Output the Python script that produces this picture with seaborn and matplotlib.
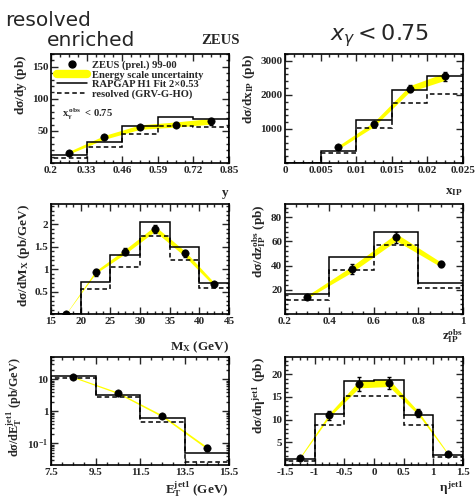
import numpy as np
import matplotlib
matplotlib.use('Agg')
import matplotlib.pyplot as plt
import seaborn as sns
from matplotlib.ticker import AutoMinorLocator, FixedLocator, FixedFormatter
from matplotlib.lines import Line2D

sns.set_style('ticks')
plt.rcParams['font.family'] = ['Liberation Serif', 'DejaVu Serif']
plt.rcParams['mathtext.fontset'] = 'custom'
plt.rcParams['mathtext.rm'] = 'Liberation Serif:bold'
plt.rcParams['mathtext.it'] = 'Liberation Serif:bold'
plt.rcParams['mathtext.bf'] = 'Liberation Serif:bold'

# ---- data ----
# panel 1: y
y_edges = [0.2, 0.33, 0.46, 0.59, 0.72, 0.85]
y_x = [0.265, 0.395, 0.525, 0.655, 0.785]
y_data = [16, 40, 56, 60, 65]
y_err = [2, 3, 3, 4, 5]
y_band = [2, 3, 3.5, 4, 4.5]
y_rapgap = [12.6, 33, 57, 71, 69]
y_resolved = [8, 25, 46, 57, 56]

# panel 2: x_IP
xp_edges = [0, 0.005, 0.01, 0.015, 0.02, 0.025]
xp_x = [0.0075, 0.0125, 0.0175, 0.0225]
xp_data = [460, 1140, 2180, 2540]
xp_err = [50, 70, 110, 140]
xp_band = [50, 70, 90, 110]
xp_rapgap = [0, 360, 1270, 2150, 2560]
xp_resolved = [0, 290, 1030, 1750, 2040]

# panel 3: M_X
mx_edges = [15, 20, 25, 30, 35, 40, 45]
mx_x = [17.5, 22.5, 27.5, 32.5, 37.5, 42.5]
mx_data = [0.0, 0.93, 1.39, 1.9, 1.35, 0.66]
mx_err = [0.01, 0.08, 0.08, 0.09, 0.08, 0.05]
mx_band = [0.005, 0.03, 0.05, 0.06, 0.06, 0.04]
mx_rapgap = [0.0, 0.72, 1.32, 2.05, 1.5, 0.68]
mx_resolved = [0.0, 0.55, 1.04, 1.73, 1.21, 0.57]

# panel 4: z_IP^obs
z_edges = [0.2, 0.4, 0.6, 0.8, 1.0]
z_x = [0.3, 0.5, 0.7, 0.9]
z_data = [14.2, 37, 63.5, 41]
z_err = [1.5, 4, 4.5, 2.5]
z_band = [1.2, 2.5, 3, 2]
z_rapgap = [16.8, 47, 67.5, 25.6]
z_resolved = [11.2, 36.5, 57.3, 21.5]

# panel 5: E_T^jet1
et_edges = [7.5, 9.5, 11.5, 13.5, 15.5]
et_x = [8.5, 10.5, 12.5, 14.5]
et_data = [11.8, 3.8, 0.72, 0.073]
et_err = [0.6, 0.25, 0.06, 0.015]
et_band = [0.5, 0.2, 0.05, 0.006]
et_rapgap = [12.7, 3.3, 0.62, 0.049]
et_resolved = [10.7, 2.75, 0.48, 0.027]

# panel 6: eta^jet1
eta_edges = [-1.5, -1.0, -0.5, 0.0, 0.5, 1.0, 1.5]
eta_x = [-1.25, -0.75, -0.25, 0.25, 0.75, 1.25]
eta_data = [1.6, 11.0, 17.8, 18.1, 11.4, 2.4]
eta_err = [0.3, 1.0, 1.6, 1.3, 0.9, 0.3]
eta_band = [0.15, 0.4, 0.8, 0.8, 0.4, 0.15]
eta_rapgap = [1.4, 11.2, 18.5, 18.7, 11.0, 2.2]
eta_resolved = [0.9, 8.9, 15.1, 15.1, 8.8, 1.8]

W, H = 477, 503
fig = plt.figure(figsize=(W / 100, H / 100), dpi=100)


def make_ax(l, t, r, b):
    return fig.add_axes([l / W, 1 - b / H, (r - l) / W, (b - t) / H])


def draw(ax, edges, xc, data, err, band, rapgap, resolved, log=False):
    xc = np.array(xc)
    data = np.array(data)
    band = np.array(band)
    ax.fill_between(xc, data - band, data + band, color='#ffff00', lw=0, zorder=1)
    ax.stairs(rapgap, edges, color='black', lw=1.1, zorder=2)
    ax.stairs(resolved, edges, color='black', lw=1.1, ls=(0, (3, 2)), zorder=2)
    ax.errorbar(xc, data, yerr=err, fmt='none', ecolor='black', elinewidth=1.0,
                capsize=1.5, zorder=3)
    sns.scatterplot(x=xc, y=data, ax=ax, color='black', s=28, edgecolor='black',
                    zorder=4, legend=False)
    ax.set_xlim(edges[0], edges[-1])
    for s in ax.spines.values():
        s.set_linewidth(1.2)
        s.set_color('black')
    ax.tick_params(which='both', direction='in', top=True, right=True,
                   labelsize=8, width=1.0, pad=2)
    ax.tick_params(which='major', length=5)
    ax.tick_params(which='minor', length=2.5)
    ax.xaxis.set_minor_locator(AutoMinorLocator(4))
    if not log:
        ax.yaxis.set_minor_locator(AutoMinorLocator(5))


lab_kw = dict(fontsize=9.5, fontweight='bold')

# panel 1
ax1 = make_ax(51, 54, 229, 163)
draw(ax1, y_edges, y_x, y_data, y_err, y_band, y_rapgap, y_resolved)
ax1.set_ylim(0, 170)
ax1.set_yticks([50, 100, 150])
ax1.set_xticks(y_edges)
ax1.set_xticklabels(['0.2', '0.33', '0.46', '0.59', '0.72', '0.85'])
ax1.xaxis.set_minor_locator(FixedLocator(np.linspace(0.2, 0.85, 21)))
ax1.set_ylabel(r'd$\sigma$/dy (pb)', loc='top', labelpad=2, **lab_kw)
ax1.set_xlabel('y', loc='right', labelpad=9, **lab_kw)
handles = [
    Line2D([], [], marker='o', color='black', ls='none', markersize=5),
    Line2D([], [], color='#ffff00', lw=6),
    Line2D([], [], color='black', lw=1.1),
    Line2D([], [], color='black', lw=1.1, ls=(0, (3, 2))),
]
labels = ['ZEUS (prel.) 99-00', 'Energy scale uncertainty',
          'RAPGAP H1 Fit 2\u00d70.53', 'resolved (GRV-G-HO)']
ax1.legend(handles, labels, loc='upper left', frameon=False,
           prop={'family': 'Liberation Serif', 'weight': 'bold', 'size': 7.6},
           handlelength=2.8, handletextpad=0.5, labelspacing=0.02,
           borderaxespad=0.2, bbox_to_anchor=(0.0, 1.0))
ax1.text(0.06, 0.43, r'x$_{\gamma}^{\,obs}$  < 0.75', transform=ax1.transAxes,
         fontsize=7.6, fontweight='bold')

# panel 2
ax2 = make_ax(285, 54, 463, 163)
draw(ax2, xp_edges, xp_x, xp_data, xp_err, xp_band, xp_rapgap, xp_resolved)
ax2.set_ylim(0, 3200)
ax2.set_yticks([1000, 2000, 3000])
ax2.set_xticks(xp_edges)
ax2.set_xticklabels(['0', '0.005', '0.01', '0.015', '0.02', '0.025'])
ax2.set_ylabel(r'd$\sigma$/dx$_{\mathrm{IP}}$ (pb)', loc='top', labelpad=2, **lab_kw)
ax2.set_xlabel(r'x$_{\mathrm{IP}}$', loc='right', labelpad=8, **lab_kw)

# panel 3
ax3 = make_ax(51, 204, 229, 314)
draw(ax3, mx_edges, mx_x, mx_data, mx_err, mx_band, mx_rapgap, mx_resolved)
ax3.set_ylim(0, 2.45)
ax3.set_yticks([0.5, 1, 1.5, 2])
ax3.set_yticklabels(['0.5', '1', '1.5', '2'])
ax3.set_xticks([15, 20, 25, 30, 35, 40, 45])
ax3.set_ylabel(r'd$\sigma$/dM$_{\mathrm{X}}$ (pb/GeV)', loc='top', labelpad=2, **lab_kw)
ax3.set_xlabel(r'M$_{\mathrm{X}}$ (GeV)', loc='right', labelpad=10, **lab_kw)

# panel 4
ax4 = make_ax(285, 204, 463, 314)
draw(ax4, z_edges, z_x, z_data, z_err, z_band, z_rapgap, z_resolved)
ax4.set_ylim(0, 91)
ax4.set_yticks([20, 40, 60, 80])
ax4.set_xticks([0.2, 0.4, 0.6, 0.8, 1.0])
ax4.set_xticklabels(['0.2', '0.4', '0.6', '0.8', '1'])
ax4.set_ylabel(r'd$\sigma$/dz$_{\mathrm{IP}}^{\mathrm{obs}}$ (pb)', loc='top', labelpad=2, **lab_kw)
ax4.set_xlabel(r'z$_{\mathrm{IP}}^{\mathrm{obs}}$', loc='right', labelpad=1, **lab_kw)

# panel 5
ax5 = make_ax(51, 357, 229, 465)
ax5.set_yscale('log')
draw(ax5, et_edges, et_x, et_data, et_err, et_band, et_rapgap, et_resolved, log=True)
ax5.set_ylim(0.021, 50)
ax5.yaxis.set_major_locator(FixedLocator([0.1, 1, 10]))
ax5.yaxis.set_major_formatter(FixedFormatter([r'$10^{-1}$', '1', '10']))
ax5.set_xticks([7.5, 9.5, 11.5, 13.5, 15.5])
ax5.set_ylabel(r'd$\sigma$/dE$_{\mathrm{T}}^{\mathrm{jet1}}$ (pb/GeV)', loc='top',
               labelpad=2, fontsize=8.8, fontweight='bold')
ax5.set_xlabel(r'E$_{\mathrm{T}}^{\mathrm{jet1}}$ (GeV)', loc='right', labelpad=2, **lab_kw)

# panel 6
ax6 = make_ax(285, 357, 463, 465)
draw(ax6, eta_edges, eta_x, eta_data, eta_err, eta_band, eta_rapgap, eta_resolved)
ax6.set_ylim(0, 23.8)
ax6.set_yticks([5, 10, 15, 20])
ax6.set_xticks([-1.5, -1, -0.5, 0, 0.5, 1, 1.5])
ax6.set_xticklabels(['-1.5', '-1', '-0.5', '0', '0.5', '1', '1.5'])
ax6.set_ylabel(r'd$\sigma$/d$\eta^{\mathrm{jet1}}$ (pb)', loc='top', labelpad=2, **lab_kw)
ax6.set_xlabel(r'$\eta^{\mathrm{jet1}}$', loc='right', labelpad=2, **lab_kw)

for ax in (ax1, ax2, ax3, ax4, ax5, ax6):
    for lab in ax.get_xticklabels() + ax.get_yticklabels():
        lab.set_fontweight('bold')

# header texts
fig.text(5 / W, 1 - 26 / H, 'resolved', family='DejaVu Sans', fontsize=14.5)
fig.text(47 / W, 1 - 46 / H, 'enriched', family='DejaVu Sans', fontsize=14.5)
fig.text(201 / W, 1 - 44 / H, 'ZEUS', fontsize=10.5, fontweight='bold')
fig.text(330 / W, 1 - 40 / H, r'$x_\gamma < 0.75$', family='DejaVu Sans',
         math_fontfamily='dejavusans', fontsize=16)

fig.savefig('out.png', dpi=100)
